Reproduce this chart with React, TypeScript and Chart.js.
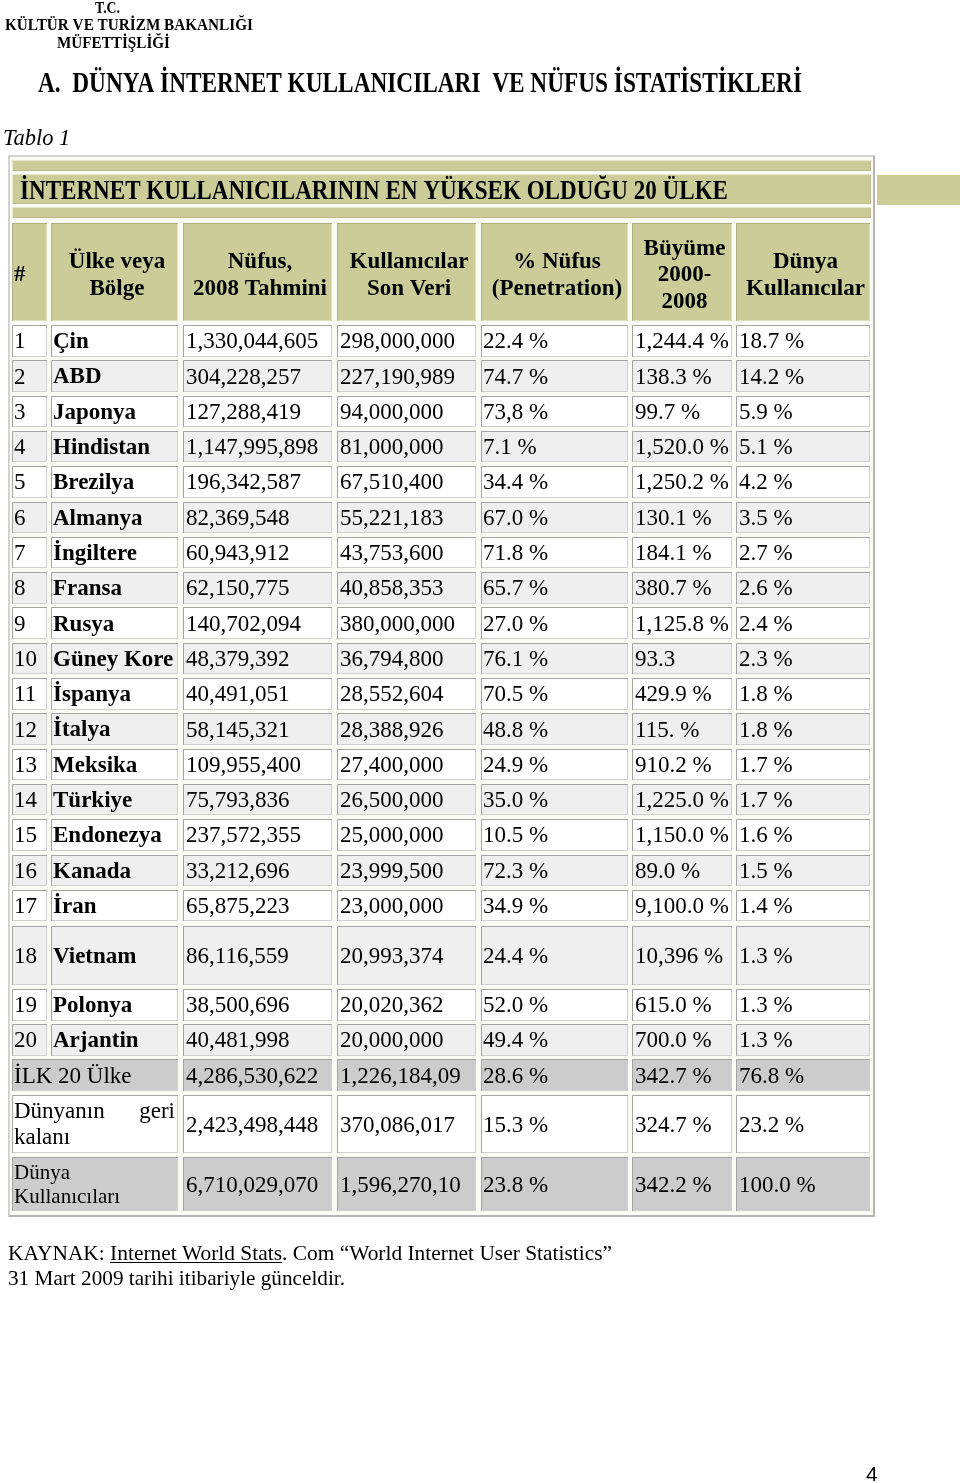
import React, { useEffect, useRef } from 'react';
import { Chart, registerables } from 'chart.js';

Chart.register(...registerables);

// ---------------- DATA ----------------
const countries = ['Çin', 'ABD', 'Japonya', 'Hindistan', 'Brezilya', 'Almanya', 'İngiltere', 'Fransa', 'Rusya', 'Güney Kore', 'İspanya', 'İtalya', 'Meksika', 'Türkiye', 'Endonezya', 'Kanada', 'İran', 'Vietnam', 'Polonya', 'Arjantin'];
const population = ['1,330,044,605', '304,228,257', '127,288,419', '1,147,995,898', '196,342,587', '82,369,548', '60,943,912', '62,150,775', '140,702,094', '48,379,392', '40,491,051', '58,145,321', '109,955,400', '75,793,836', '237,572,355', '33,212,696', '65,875,223', '86,116,559', '38,500,696', '40,481,998'];
const users = ['298,000,000', '227,190,989', '94,000,000', '81,000,000', '67,510,400', '55,221,183', '43,753,600', '40,858,353', '380,000,000', '36,794,800', '28,552,604', '28,388,926', '27,400,000', '26,500,000', '25,000,000', '23,999,500', '23,000,000', '20,993,374', '20,020,362', '20,000,000'];
const penetration = ['22.4 %', '74.7 %', '73,8 %', '7.1 %', '34.4 %', '67.0 %', '71.8 %', '65.7 %', '27.0 %', '76.1 %', '70.5 %', '48.8 %', '24.9 %', '35.0 %', '10.5 %', '72.3 %', '34.9 %', '24.4 %', '52.0 %', '49.4 %'];
const growth = ['1,244.4 %', '138.3 %', '99.7 %', '1,520.0 %', '1,250.2 %', '130.1 %', '184.1 %', '380.7 %', '1,125.8 %', '93.3', '429.9 %', '115. %', '910.2 %', '1,225.0 %', '1,150.0 %', '89.0 %', '9,100.0 %', '10,396 %', '615.0 %', '700.0 %'];
const worldShare = ['18.7 %', '14.2 %', '5.9 %', '5.1 %', '4.2 %', '3.5 %', '2.7 %', '2.6 %', '2.4 %', '2.3 %', '1.8 %', '1.8 %', '1.7 %', '1.7 %', '1.6 %', '1.5 %', '1.4 %', '1.3 %', '1.3 %', '1.3 %'];

const totalLabels = ['İLK 20 Ülke', 'Dünyanın geri kalanı', 'Dünya Kullanıcıları'];
const totalPopulation = ['4,286,530,622', '2,423,498,448', '6,710,029,070'];
const totalUsers = ['1,226,184,09', '370,086,017', '1,596,270,10'];
const totalPenetration = ['28.6 %', '15.3 %', '23.8 %'];
const totalGrowth = ['342.7 %', '324.7 %', '342.2 %'];
const totalShare = ['76.8 %', '23.2 %', '100.0 %'];

const headerLabels = ['#', 'Ülke veya\nBölge', 'Nüfus,\n2008 Tahmini', 'Kullanıcılar\nSon Veri', '% Nüfus\n(Penetration)', 'Büyüme\n2000-\n2008', 'Dünya\nKullanıcılar'];

const orgLines = ['T.C.', 'KÜLTÜR VE TURİZM BAKANLIĞI', 'MÜFETTİŞLİĞİ'];
const sectionTitle = 'A.  DÜNYA İNTERNET KULLANICILARI  VE NÜFUS İSTATİSTİKLERİ';
const tableCaption = 'Tablo 1';
const tableTitle = 'İNTERNET KULLANICILARININ EN YÜKSEK OLDUĞU 20 ÜLKE';
const sourcePrefix = 'KAYNAK: ';
const sourceLink = 'Internet World Stats';
const sourceSuffix = '. Com “World Internet User Statistics”';
const sourceLine2 = '31 Mart 2009 tarihi itibariyle günceldir.';
const pageNumber = '4';

// ---------------- LAYOUT ----------------
const PAGE_W = 960;
const PAGE_H = 1483;
const SERIF = '"Liberation Serif", "Times New Roman", serif';
const SANS = '"Liberation Sans", Arial, sans-serif';
const COLS: [number, number][] = [[12, 47], [51, 178], [183, 332], [337, 476], [481, 628], [632, 732], [736, 870]];
const HEAD_Y: [number, number] = [223, 321];
const ROW_START = 325;
const ROW_PITCH = 35.3;
const ROW_H = 31.5;
const SPECIAL_ROWS: Record<number, [number, number]> = { 17: [926, 985], 18: [989, 1020.5], 19: [1024, 1055.5] };
const TOTAL_ROWS: [number, number][] = [[1059, 1091], [1095, 1153], [1157, 1211]];
const OLIVE = '#cccc99';

function rowSpan(i: number): [number, number] {
  if (SPECIAL_ROWS[i]) return SPECIAL_ROWS[i];
  const t = ROW_START + i * ROW_PITCH;
  return [t, t + ROW_H];
}

const tablePlugin = {
  id: 'tablePlugin',
  beforeDraw(chart: any) {
    const ctx = chart.ctx;
    ctx.save();
    ctx.fillStyle = '#ffffff';
    ctx.fillRect(0, 0, chart.width, chart.height);
    ctx.restore();
  },
  afterDraw(chart: any) {
    const ctx: CanvasRenderingContext2D = chart.ctx;
    const xs = chart.scales.x;
    const ys = chart.scales.y;
    const X = (v: number) => Math.round(xs.getPixelForValue(v));
    const Y = (v: number) => Math.round(ys.getPixelForValue(v));
    const Xf = (v: number) => xs.getPixelForValue(v);
    const Yf = (v: number) => ys.getPixelForValue(v);

    ctx.save();

    const fit = (text: string, x: number, y: number, font: string, width: number) => {
      ctx.font = font;
      const m = ctx.measureText(text).width;
      const s = (Xf(x + width) - Xf(x)) / m;
      ctx.save();
      ctx.translate(Xf(x), Yf(y));
      ctx.scale(s, 1);
      ctx.textAlign = 'left';
      ctx.textBaseline = 'alphabetic';
      ctx.fillText(text, 0, 0);
      ctx.restore();
      return s;
    };

    const cell = (x0: number, y0: number, x1: number, y1: number, fill: string, tl: string, br: string) => {
      const a = X(x0), b = Y(y0), c = X(x1), d = Y(y1);
      ctx.fillStyle = fill;
      ctx.fillRect(a, b, c - a, d - b);
      ctx.lineWidth = 1;
      ctx.strokeStyle = tl;
      ctx.beginPath();
      ctx.moveTo(a + 0.5, d);
      ctx.lineTo(a + 0.5, b + 0.5);
      ctx.lineTo(c, b + 0.5);
      ctx.stroke();
      ctx.strokeStyle = br;
      ctx.beginPath();
      ctx.moveTo(c - 0.5, b + 1);
      ctx.lineTo(c - 0.5, d - 0.5);
      ctx.lineTo(a + 1, d - 0.5);
      ctx.stroke();
    };

    const text = (t: string, x: number, y: number, font: string, align: CanvasTextAlign = 'left') => {
      ctx.font = font;
      ctx.textAlign = align;
      ctx.textBaseline = 'middle';
      ctx.fillStyle = '#000';
      ctx.fillText(t, Xf(x), Yf(y));
    };

    ctx.fillStyle = '#000';

    // page heading
    const orgFont = `bold 16px ${SERIF}`;
    fit(orgLines[0], 95, 13, orgFont, 25);
    fit(orgLines[1], 5, 30, orgFont, 248);
    fit(orgLines[2], 57, 47.5, orgFont, 113);

    fit(sectionTitle, 38, 92, `bold 30px ${SERIF}`, 764);

    ctx.font = `italic 22.5px ${SERIF}`;
    ctx.textAlign = 'left';
    ctx.textBaseline = 'alphabetic';
    ctx.fillText(tableCaption, Xf(3), Yf(145));

    // outer table
    ctx.fillStyle = '#fbfbf6';
    ctx.fillRect(X(9), Y(156), X(874) - X(9), Y(1216) - Y(156));
    ctx.lineWidth = 2;
    ctx.strokeStyle = '#d2d2d2';
    ctx.strokeRect(X(9), Y(156), X(874) - X(9), Y(1216) - Y(156));
    ctx.strokeStyle = '#b4b4b4';
    ctx.beginPath();
    ctx.moveTo(X(874), Y(156));
    ctx.lineTo(X(874), Y(1216));
    ctx.lineTo(X(9), Y(1216));
    ctx.stroke();

    // title bands
    cell(12, 160, 871, 171, OLIVE, '#e6e6cc', '#b9b98c');
    cell(12, 174, 871, 204, OLIVE, '#e6e6cc', '#b9b98c');
    cell(12, 207, 871, 218, OLIVE, '#e6e6cc', '#b9b98c');
    ctx.fillStyle = OLIVE;
    ctx.fillRect(X(877), Y(175), X(960) - X(877), Y(205) - Y(175));
    ctx.fillStyle = '#000';
    fit(tableTitle, 20, 198.5, `bold 28px ${SERIF}`, 708);

    // header cells
    const headFont = `bold 23px ${SERIF}`;
    COLS.forEach(([x0, x1], c) => {
      cell(x0, HEAD_Y[0], x1, HEAD_Y[1], OLIVE, '#b0b085', '#dedebe');
      const lines = headerLabels[c].split('\n');
      const lh = lines.length > 2 ? 26.5 : 27;
      const mid = 275.5;
      lines.forEach((ln, k) => {
        const y = mid + (k - (lines.length - 1) / 2) * lh;
        if (c === 0) text(ln, x0 + 2, y, headFont, 'left');
        else text(ln, (x0 + x1) / 2 + 2.5, y, headFont, 'center');
      });
    });

    // data rows
    const reg = `23px ${SERIF}`;
    const bold = `bold 23px ${SERIF}`;
    countries.forEach((name, i) => {
      const [y0, y1] = rowSpan(i);
      const fill = i % 2 === 0 ? '#ffffff' : '#efefef';
      const cy = (y0 + y1) / 2 + 1.5;
      const vals = [String(i + 1), name, population[i], users[i], penetration[i], growth[i], worldShare[i]];
      COLS.forEach(([x0, x1], c) => {
        cell(x0, y0, x1, y1, fill, '#a3a3a3', '#cfcfcf');
        text(vals[c], x0 + (c === 0 || c === 1 || c === 4 ? 2 : 3), cy, c === 1 ? bold : reg, 'left');
      });
    });

    // totals
    const totalFills = ['#cccccc', '#ffffff', '#cccccc'];
    totalLabels.forEach((lab, t) => {
      const [y0, y1] = TOTAL_ROWS[t];
      const fill = totalFills[t];
      const cy = (y0 + y1) / 2 + 1.5;
      cell(COLS[0][0], y0, COLS[1][1], y1, fill, '#a3a3a3', '#cfcfcf');
      if (t === 0) {
        text(lab, COLS[0][0] + 2, cy, reg, 'left');
      } else if (t === 1) {
        const words = lab.split(' ');
        text(words[0], COLS[0][0] + 2, 1112, reg, 'left');
        text(words[1], COLS[1][1] - 3, 1112, reg, 'right');
        text(words[2], COLS[0][0] + 2, 1138, reg, 'left');
      } else {
        const words = lab.split(' ');
        const f = `21px ${SERIF}`;
        text(words[0], COLS[0][0] + 2, 1173, f, 'left');
        text(words[1], COLS[0][0] + 2, 1197, f, 'left');
      }
      const vals = [totalPopulation[t], totalUsers[t], totalPenetration[t], totalGrowth[t], totalShare[t]];
      for (let c = 2; c < COLS.length; c++) {
        const [x0, x1] = COLS[c];
        cell(x0, y0, x1, y1, fill, '#a3a3a3', '#cfcfcf');
        text(vals[c - 2], x0 + (c === 4 ? 2 : 3), cy, reg, 'left');
      }
    });

    // footer
    ctx.fillStyle = '#000';
    const footFont = `21px ${SERIF}`;
    const full = sourcePrefix + sourceLink + sourceSuffix;
    const s = fit(full, 8, 1260, footFont, 604);
    ctx.font = footFont;
    const preW = ctx.measureText(sourcePrefix).width * s;
    const linkW = ctx.measureText(sourceLink).width * s;
    ctx.fillRect(Xf(8) + preW, Y(1262), linkW, 1);
    fit(sourceLine2, 8, 1285, footFont, 337);

    ctx.font = `21px ${SANS}`;
    ctx.textAlign = 'left';
    ctx.textBaseline = 'alphabetic';
    ctx.fillText(pageNumber, Xf(866), Yf(1481));

    ctx.restore();
  },
};

export default function App() {
  const ref = useRef<HTMLCanvasElement | null>(null);
  useEffect(() => {
    if (!ref.current) return;
    const chart = new Chart(ref.current, {
      type: 'scatter',
      data: { datasets: [] },
      options: {
        animation: false,
        responsive: false,
        events: [],
        layout: { padding: 0 },
        plugins: { legend: { display: false }, tooltip: { enabled: false }, title: { display: false } },
        scales: {
          x: { type: 'linear', min: 0, max: PAGE_W, display: false },
          y: { type: 'linear', min: 0, max: PAGE_H, reverse: true, display: false },
        },
      },
      plugins: [tablePlugin],
    } as any);
    return () => chart.destroy();
  }, []);
  return (
    <div style={{ position: 'absolute', left: 0, top: 0, width: PAGE_W, height: PAGE_H, overflow: 'hidden', background: '#fff' }}>
      <canvas ref={ref} width={PAGE_W} height={PAGE_H} style={{ display: 'block', width: PAGE_W, height: PAGE_H }} />
    </div>
  );
}
